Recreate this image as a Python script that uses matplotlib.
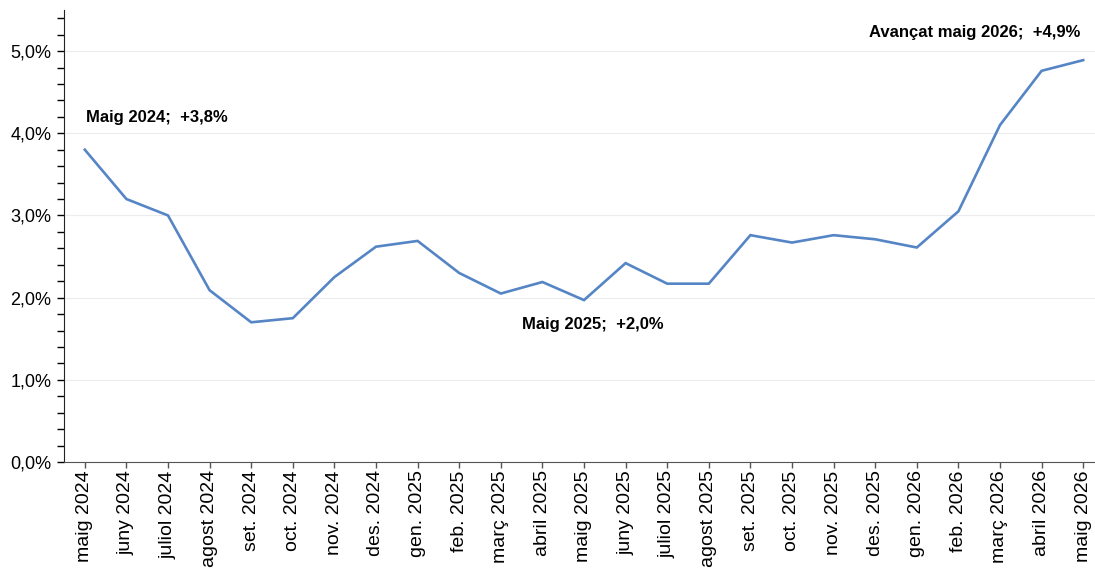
import numpy as np
import matplotlib.pyplot as plt
from matplotlib.ticker import MultipleLocator, FuncFormatter

plt.rcParams['font.family'] = ['Liberation Sans', 'DejaVu Sans']

months = ['maig 2024', 'juny 2024', 'juliol 2024', 'agost 2024', 'set. 2024',
          'oct. 2024', 'nov. 2024', 'des. 2024', 'gen. 2025', 'feb. 2025',
          'març 2025', 'abril 2025', 'maig 2025', 'juny 2025', 'juliol 2025',
          'agost 2025', 'set. 2025', 'oct. 2025', 'nov. 2025', 'des. 2025',
          'gen. 2026', 'feb. 2026', 'març 2026', 'abril 2026', 'maig 2026']
values = [3.80, 3.20, 3.00, 2.09, 1.70, 1.75, 2.25, 2.62, 2.69, 2.30,
          2.05, 2.19, 1.97, 2.42, 2.17, 2.17, 2.76, 2.67, 2.76, 2.71,
          2.61, 3.05, 4.10, 4.76, 4.89]

fig = plt.figure(figsize=(10.95, 5.68), dpi=100)
ax = fig.add_axes([64 / 1095, 106 / 568, 1040 / 1095, 452 / 568])

x = np.arange(len(months))
ax.plot(x, values, color='#5585C5', linewidth=1.9, solid_joinstyle='miter')

ax.set_xlim(-0.5, len(months) - 0.5)
ax.set_ylim(0, 5.5)
ax.yaxis.set_major_locator(MultipleLocator(1))
ax.yaxis.set_minor_locator(MultipleLocator(0.2))
ax.yaxis.set_major_formatter(FuncFormatter(lambda v, p: f'{v:.1f}%'.replace('.', ',')))
ax.set_xticks(x)
ax.set_xticklabels(months, rotation=90, fontsize=14)
ax.tick_params(axis='y', which='both', direction='out', length=5, width=1, labelsize=13, pad=4)
ax.tick_params(axis='x', direction='out', length=4, width=1, pad=2, color='#555555')

ax.grid(axis='y', which='major', color='#ececec', linewidth=0.8)
ax.set_axisbelow(True)
for s in ['top', 'right']:
    ax.spines[s].set_visible(False)
ax.spines['left'].set_color('#222222')
ax.spines['bottom'].set_color('#555555')

ax.text(0.02, 4.19, 'Maig 2024;  +3,8%', fontsize=12, fontweight='bold', va='center', ha='left')
ax.text(12.2, 1.67, 'Maig 2025;  +2,0%', fontsize=12, fontweight='bold', va='center', ha='center')
ax.text(23.93, 5.23, 'Avançat maig 2026;  +4,9%', fontsize=12, fontweight='bold', va='center', ha='right')

fig.savefig('out.png', dpi=100)
